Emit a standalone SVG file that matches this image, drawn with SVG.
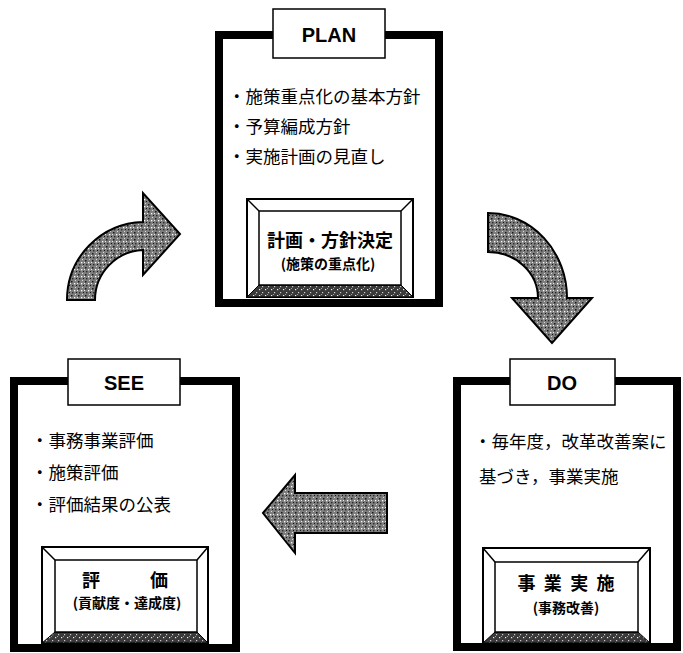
<svg xmlns="http://www.w3.org/2000/svg" width="683" height="653" viewBox="0 0 683 653">
<defs>
<pattern id="stip" width="7" height="7" patternUnits="userSpaceOnUse">
<rect width="7" height="7" fill="#7e7e7e"/>
<rect x="1" y="1" width="1.5" height="1.5" fill="#1a1a1a"/>
<rect x="4" y="3" width="1.3" height="1.3" fill="#fff"/>
<rect x="2" y="5" width="1.4" height="1.4" fill="#2a2a2a"/>
<rect x="5" y="0" width="1" height="1" fill="#ddd"/>
<rect x="6" y="5" width="1" height="1" fill="#111"/>
<rect x="0" y="3" width="1" height="1" fill="#eee"/>
</pattern>
<pattern id="dark" width="6" height="6" patternUnits="userSpaceOnUse">
<rect width="6" height="6" fill="#3a3a3a"/>
<rect x="1" y="1" width="1.2" height="1.2" fill="#eee"/>
<rect x="4" y="4" width="1.2" height="1.2" fill="#ccc"/>
<rect x="3" y="0" width="1" height="1" fill="#999"/>
</pattern>
<style>
.frame{fill:#fff;stroke:#000;stroke-width:8}
.tab{fill:#fff;stroke:#000;stroke-width:1.5}
.tabt{font-family:"Liberation Sans",Arial,sans-serif;font-weight:bold;font-size:20px;fill:#000;text-anchor:middle}
.item{font-family:"Noto Sans CJK JP","Noto Sans CJK SC",sans-serif;font-size:17.5px;fill:#000}
.bo{fill:#fff;stroke:#000;stroke-width:2}
.bi{fill:#fff;stroke:#000;stroke-width:1.5}
.bb{fill:url(#dark);stroke:#000;stroke-width:1}
.bl{stroke:#000;stroke-width:1.5}
.t1{font-family:"Noto Sans CJK JP","Noto Sans CJK SC",sans-serif;font-weight:bold;font-size:18px;fill:#000;text-anchor:middle}
.t2{font-family:"Noto Sans CJK JP","Noto Sans CJK SC",sans-serif;font-weight:bold;font-size:14px;fill:#000;text-anchor:middle}
.arr{fill:url(#stip);stroke:#000;stroke-width:2;stroke-linejoin:miter}
</style>
</defs>
<rect width="683" height="653" fill="#fff"/>

<g id="connectors">
<path id="arrow-see-plan" class="arr" d="M67,300 A78,78 0 0 1 143,222 L143,193 L180,234 L143,275 L143,250 A50,50 0 0 0 95,300 Z"/>
<path id="arrow-plan-do" class="arr" d="M488,213 A79,85 0 0 1 567,298 L592,298 L552,343 L512,298 L538,298 A50,46 0 0 0 488,252 Z"/>
<path id="arrow-do-see" class="arr" d="M263,513 L295,475 L295,493 L387,493 L387,533 L295,533 L295,553 Z"/>
</g>

<g id="plan">
<rect class="frame" x="219" y="35" width="220" height="268"/>
<rect class="tab" x="273" y="9" width="112" height="49"/>
<text class="tabt" x="329" y="42">PLAN</text>
<text class="item" x="228" y="103">・施策重点化の基本方針</text>
<text class="item" x="228" y="133">・予算編成方針</text>
<text class="item" x="228" y="163">・実施計画の見直し</text>
<rect class="bo" x="247" y="199" width="166" height="98"/>
<polygon class="bb" points="247,297 413,297 401,285 259,285"/>
<rect class="bi" x="259" y="211" width="142" height="74"/>
<line class="bl" x1="247" y1="199" x2="259" y2="211"/>
<line class="bl" x1="413" y1="199" x2="401" y2="211"/>
<text class="t1" x="330" y="247">計画・方針決定</text>
<text class="t2" x="328" y="269">(施策の重点化)</text>
</g>

<g id="see">
<rect class="frame" x="14" y="381" width="222" height="267"/>
<rect class="tab" x="68" y="359" width="112" height="46"/>
<text class="tabt" x="124" y="390">SEE</text>
<text class="item" x="31" y="447">・事務事業評価</text>
<text class="item" x="31" y="479">・施策評価</text>
<text class="item" x="31" y="511">・評価結果の公表</text>
<rect class="bo" x="42" y="547" width="166" height="96"/>
<polygon class="bb" points="42,643 208,643 197,632 55,632"/>
<rect class="bi" x="55" y="560" width="142" height="72"/>
<line class="bl" x1="42" y1="547" x2="55" y2="560"/>
<line class="bl" x1="208" y1="547" x2="197" y2="560"/>
<text class="t1" x="125" y="587" textLength="86" lengthAdjust="spacing">評　価</text>
<text class="t2" x="127" y="608">(貢献度・達成度)</text>
</g>

<g id="do">
<rect class="frame" x="457" y="381" width="220" height="266"/>
<rect class="tab" x="510" y="359" width="105" height="46"/>
<text class="tabt" x="562" y="390">DO</text>
<text class="item" x="474" y="448">・毎年度，改革改善案に</text>
<text class="item" x="479" y="483">基づき，事業実施</text>
<rect class="bo" x="483" y="548" width="167" height="95"/>
<polygon class="bb" points="483,643 650,643 638,632 495,632"/>
<rect class="bi" x="495" y="562" width="143" height="70"/>
<line class="bl" x1="483" y1="548" x2="495" y2="562"/>
<line class="bl" x1="650" y1="548" x2="638" y2="562"/>
<text class="t1" x="566" y="590" textLength="97" lengthAdjust="spacing">事 業 実 施</text>
<text class="t2" x="566" y="613">(事務改善)</text>
</g>
</svg>
